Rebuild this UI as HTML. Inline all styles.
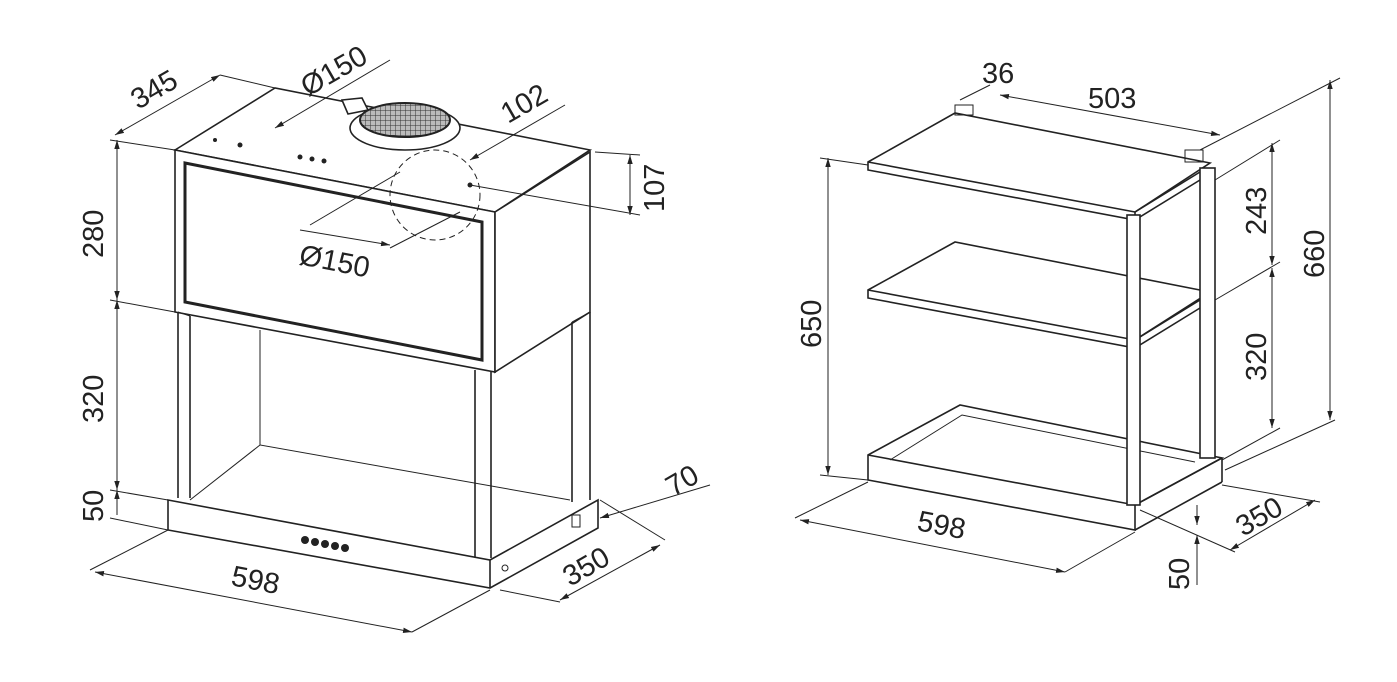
<!DOCTYPE html>
<html><head><meta charset="utf-8"><style>
html,body{margin:0;padding:0;background:#fff}
svg{display:block}
text{font-family:"Liberation Sans",sans-serif;font-size:29px;fill:#222}
.l{stroke:#222;stroke-width:1.6;fill:none}
.t{stroke:#222;stroke-width:1;fill:none}
.d{stroke:#222;stroke-width:1;fill:none;stroke-dasharray:6 4}
.f{fill:#fff;stroke:#222;stroke-width:1.6}
</style></head><body>
<svg width="1397" height="682" viewBox="0 0 1397 682">
<defs><marker id="a" viewBox="0 0 10 10" refX="10" refY="5" markerWidth="9" markerHeight="9" orient="auto-start-reverse"><path d="M0,2 L10,5 L0,8z" fill="#222"/></marker>
<pattern id="g" width="5" height="5" patternUnits="userSpaceOnUse"><rect width="5" height="5" fill="#bbb"/><path d="M0,0H5M0,0V5" stroke="#333" stroke-width="1"/></pattern></defs>

<g>
<polygon class="f" points="175,150 275,88 590,150 495,212"/>
<polygon class="f" points="175,150 495,212 495,372 175,312"/>
<polygon class="l" points="185,163 482,222 482,360 185,302" style="stroke-width:3"/>
<polygon class="f" points="495,212 590,152 590,312 495,372"/>
<polyline class="l" points="178,312 178,498"/><polyline class="l" points="190,316 190,498"/>
<polyline class="l" points="475,370 475,558"/><polyline class="l" points="491,372 491,558"/>
<polyline class="l" points="572,322 572,502"/><polyline class="l" points="590,312 590,500"/>
<polyline class="t" points="260,330 260,445 570,500"/>
<polyline class="t" points="190,500 260,445"/>
<line class="t" x1="572" y1="322" x2="590" y2="312"/>
<line class="t" x1="178" y1="312" x2="190" y2="316"/>
<polygon class="f" points="168,500 490,560 598,500 598,528 490,588 168,530"/>
<line class="l" x1="490" y1="560" x2="490" y2="588"/>
<g fill="#222"><circle cx="305" cy="540" r="4"/><circle cx="315" cy="542" r="4"/><circle cx="325" cy="544" r="4"/><circle cx="335" cy="546" r="4"/><circle cx="345" cy="548" r="4"/></g>
<circle cx="505" cy="568" r="3" class="t"/>
<rect x="572" y="515" width="8" height="12" class="t"/>
<ellipse cx="405" cy="128" rx="55" ry="22" class="f"/>
<ellipse cx="405" cy="120" rx="45" ry="17" fill="url(#g)" stroke="#222" stroke-width="2"/>
<polygon class="f" points="342,100 362,98 368,110 348,114"/>
<ellipse cx="435" cy="195" rx="45" ry="45" class="d"/>
<g fill="#222"><circle cx="240" cy="145" r="2.5"/><circle cx="300" cy="157" r="2.5"/><circle cx="312" cy="159" r="2.5"/><circle cx="324" cy="161" r="2.5"/><circle cx="470" cy="185" r="2.5"/><circle cx="215" cy="140" r="2"/></g>
<line class="t" x1="117" y1="140" x2="117" y2="300" marker-start="url(#a)" marker-end="url(#a)"/>
<line class="t" x1="117" y1="300" x2="117" y2="490" marker-start="url(#a)" marker-end="url(#a)"/>
<line class="t" x1="117" y1="490" x2="117" y2="515" marker-start="url(#a)"/>
<line class="t" x1="110" y1="300" x2="175" y2="312"/>
<line class="t" x1="110" y1="140" x2="175" y2="150"/>
<line class="t" x1="110" y1="490" x2="168" y2="500"/>
<line class="t" x1="110" y1="518" x2="168" y2="530"/>
<line class="t" x1="95" y1="572" x2="412" y2="632" marker-start="url(#a)" marker-end="url(#a)"/>
<line class="t" x1="90" y1="570" x2="168" y2="530"/><line class="t" x1="412" y1="632" x2="490" y2="590"/>
<line class="t" x1="115" y1="135" x2="220" y2="75" marker-start="url(#a)" marker-end="url(#a)"/>
<line class="t" x1="220" y1="75" x2="275" y2="88"/>
<line class="t" x1="560" y1="600" x2="660" y2="545" marker-start="url(#a)" marker-end="url(#a)"/>
<line class="t" x1="500" y1="590" x2="560" y2="602"/><line class="t" x1="600" y1="500" x2="665" y2="540"/>
<line class="t" x1="600" y1="518" x2="710" y2="485" marker-start="url(#a)"/>
<line class="t" x1="630" y1="155" x2="630" y2="215" marker-start="url(#a)" marker-end="url(#a)"/>
<line class="t" x1="595" y1="152" x2="640" y2="155"/><line class="t" x1="470" y1="185" x2="640" y2="215"/>
<line class="t" x1="275" y1="128" x2="390" y2="60" marker-start="url(#a)"/>
<line class="t" x1="470" y1="160" x2="565" y2="105" marker-start="url(#a)"/>
<line class="t" x1="310" y1="225" x2="400" y2="172"/>
<line class="t" x1="390" y1="248" x2="460" y2="212"/>
<line class="t" x1="300" y1="230" x2="390" y2="245" marker-end="url(#a)"/>
<text transform="translate(103,258) rotate(-90)">280</text>
<text transform="translate(103,423) rotate(-90)">320</text>
<text transform="translate(103,522) rotate(-90)">50</text>
<text transform="translate(230,585) rotate(11)">598</text>
<text transform="translate(138,110) rotate(-30)">345</text>
<text transform="translate(308,97) rotate(-30)">Ø150</text>
<text transform="translate(508,124) rotate(-30)">102</text>
<text transform="translate(664,212) rotate(-90)">107</text>
<text transform="translate(298,264) rotate(11)">Ø150</text>
<text transform="translate(570,587) rotate(-30)">350</text>
<text transform="translate(673,497) rotate(-30)">70</text>
</g>

<g>
<polygon class="f" points="868,162 955,113 1210,163 1135,212 1135,220 868,170"/>
<line class="l" x1="868" y1="162" x2="1135" y2="212"/>
<polygon class="f" points="868,290 955,242 1210,292 1135,340 1135,348 868,298"/>
<line class="l" x1="868" y1="290" x2="1135" y2="340"/>
<polygon class="f" points="868,455 960,405 1222,458 1135,505 1135,530 868,480"/>
<line class="l" x1="868" y1="455" x2="1135" y2="505"/>
<line class="l" x1="1135" y1="505" x2="1222" y2="458"/><line class="l" x1="1222" y1="458" x2="1222" y2="482"/><line class="l" x1="1135" y1="530" x2="1222" y2="482"/>
<polyline class="t" points="890,460 962,415 1195,462"/>
<rect x="1200" y="168" width="15" height="290" class="f"/>
<line class="l" x1="1135" y1="212" x2="1200" y2="172"/><line class="l" x1="1135" y1="220" x2="1200" y2="180"/>
<line class="l" x1="1135" y1="340" x2="1200" y2="300"/><line class="l" x1="1135" y1="348" x2="1200" y2="308"/>
<rect x="1127" y="215" width="13" height="290" class="f"/>
<rect x="955" y="105" width="18" height="10" class="t"/><rect x="1185" y="150" width="18" height="12" class="t"/>
<line class="t" x1="828" y1="158" x2="828" y2="475" marker-start="url(#a)" marker-end="url(#a)"/>
<line class="t" x1="820" y1="158" x2="868" y2="165"/><line class="t" x1="820" y1="475" x2="868" y2="480"/>
<line class="t" x1="800" y1="520" x2="1065" y2="572" marker-start="url(#a)" marker-end="url(#a)"/>
<line class="t" x1="795" y1="518" x2="868" y2="482"/><line class="t" x1="1065" y1="572" x2="1135" y2="532"/>
<line class="t" x1="1000" y1="95" x2="1220" y2="135" marker-start="url(#a)" marker-end="url(#a)"/>
<line class="t" x1="960" y1="100" x2="990" y2="85"/><line class="t" x1="1200" y1="150" x2="1340" y2="78"/>
<line class="t" x1="1330" y1="80" x2="1330" y2="420" marker-start="url(#a)" marker-end="url(#a)"/>
<line class="t" x1="1225" y1="470" x2="1335" y2="420"/>
<line class="t" x1="1272" y1="143" x2="1272" y2="265" marker-start="url(#a)" marker-end="url(#a)"/>
<line class="t" x1="1272" y1="268" x2="1272" y2="428" marker-start="url(#a)" marker-end="url(#a)"/>
<line class="t" x1="1215" y1="180" x2="1280" y2="140"/><line class="t" x1="1215" y1="300" x2="1280" y2="262"/><line class="t" x1="1222" y1="460" x2="1280" y2="428"/>
<line class="t" x1="1230" y1="550" x2="1315" y2="500" marker-start="url(#a)" marker-end="url(#a)"/>
<line class="t" x1="1140" y1="510" x2="1235" y2="552"/><line class="t" x1="1222" y1="485" x2="1320" y2="502"/>
<line class="t" x1="1197" y1="505" x2="1197" y2="525" marker-end="url(#a)"/>
<line class="t" x1="1197" y1="585" x2="1197" y2="535" marker-end="url(#a)"/>
<text transform="translate(821,348) rotate(-90)">650</text>
<text transform="translate(916,530) rotate(11)">598</text>
<text x="1088" y="108">503</text>
<text x="982" y="83">36</text>
<text transform="translate(1324,278) rotate(-90)">660</text>
<text transform="translate(1266,235) rotate(-90)">243</text>
<text transform="translate(1266,381) rotate(-90)">320</text>
<text transform="translate(1243,537) rotate(-30)">350</text>
<text transform="translate(1189,590) rotate(-90)">50</text>
</g>
</svg>
</body></html>
